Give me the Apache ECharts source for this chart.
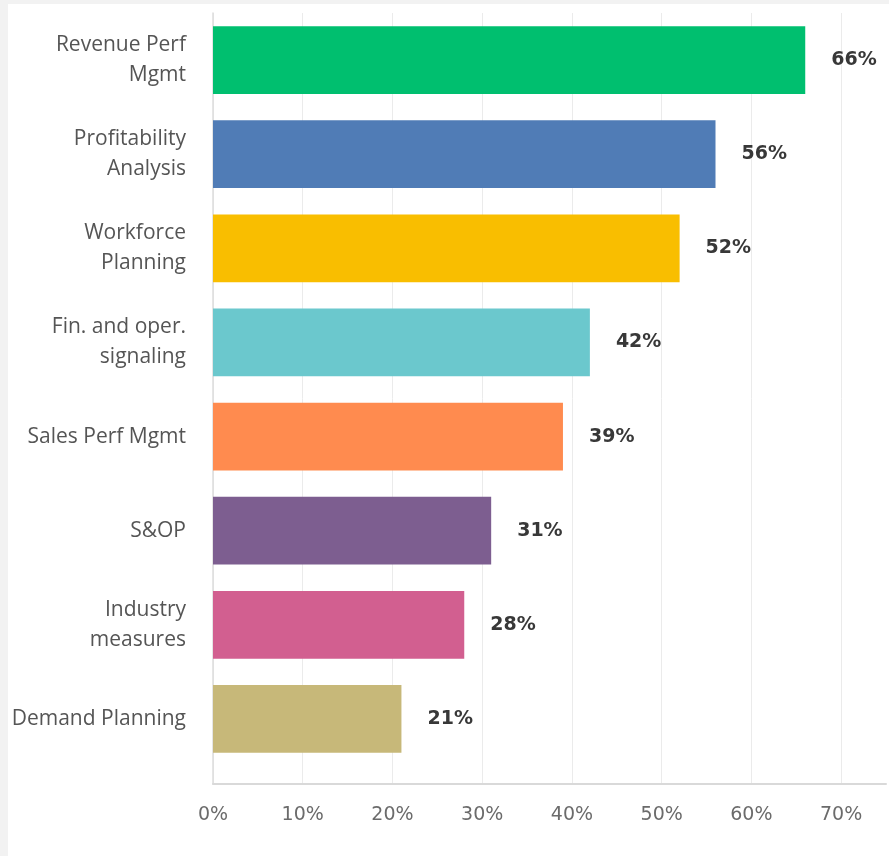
<!DOCTYPE html>
<html>
<head>
<meta charset="utf-8">
<script src="https://cdn.jsdelivr.net/npm/echarts@6/dist/echarts.min.js"></script>
<style>
  html, body { margin: 0; padding: 0; background: #f2f2f2; }
  #chart { position: absolute; left: 8px; top: 4px; width: 881px; height: 852px; background: #ffffff; }
</style>
</head>
<body>
<div id="chart"></div>
<script>
// Survey answers, top to bottom
const categories = [
  'Revenue Perf\nMgmt',
  'Profitability\nAnalysis',
  'Workforce\nPlanning',
  'Fin. and oper.\nsignaling',
  'Sales Perf Mgmt',
  'S&OP',
  'Industry\nmeasures',
  'Demand Planning'
];
const shares = [66, 56, 52, 42, 39, 31, 28, 21];
const barColors = ['#00bf6f', '#507cb6', '#f9be00', '#6bc8cd', '#ff8b4f', '#7d5e90', '#d25f90', '#c7b879'];
const percentTicks = { min: 0, max: 75, interval: 10 };

const chart = echarts.init(document.getElementById('chart'));
chart.setOption({
  animation: false,
  grid: [
    // bars and category labels
    { left: 205, right: 3, top: 9, bottom: 90 },
    // frame: percent axis, grid lines and left rule, a little taller than the bar area
    { left: 205, right: 3, top: 9, bottom: 72 }
  ],
  xAxis: [
    {
      gridIndex: 0,
      type: 'value',
      min: percentTicks.min,
      max: percentTicks.max,
      interval: percentTicks.interval,
      show: false
    },
    {
      gridIndex: 1,
      type: 'value',
      min: percentTicks.min,
      max: percentTicks.max,
      interval: percentTicks.interval,
      axisLine: { show: true, lineStyle: { color: '#d9d9d9', width: 2 } },
      axisTick: { show: false },
      axisLabel: {
        formatter: '{value}%',
        color: '#6b6b6b',
        fontFamily: 'DejaVu Sans',
        fontSize: 19,
        margin: 22,
        showMaxLabel: false
      },
      splitLine: { show: true, showMaxLine: false, lineStyle: { color: '#ebebeb', width: 1 } }
    }
  ],
  yAxis: [
    {
      gridIndex: 0,
      type: 'category',
      data: categories,
      inverse: true,
      axisLine: { show: false },
      axisTick: { show: false },
      axisLabel: {
        color: '#555555',
        fontFamily: 'Open Sans',
        fontSize: 21,
        lineHeight: 30,
        margin: 27,
        align: 'right'
      }
    },
    {
      gridIndex: 1,
      type: 'value',
      min: 0,
      max: 1,
      axisLine: { show: true, lineStyle: { color: '#dcdcdc', width: 1.5 } },
      axisTick: { show: false },
      axisLabel: { show: false },
      splitLine: { show: false }
    }
  ],
  series: [{
    type: 'bar',
    xAxisIndex: 0,
    yAxisIndex: 0,
    data: shares.map((v, i) => ({ value: v, itemStyle: { color: barColors[i] } })),
    barCategoryGap: '28%',
    label: {
      show: true,
      position: 'right',
      distance: 26,
      formatter: '{c}%',
      color: '#383838',
      fontFamily: 'DejaVu Sans',
      fontSize: 19,
      fontWeight: 'bold'
    }
  }]
});
</script>
</body>
</html>
